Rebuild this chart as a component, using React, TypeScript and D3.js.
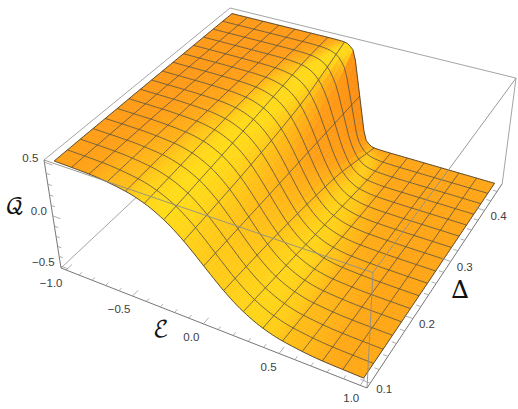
import React from "react";
import * as d3 from "d3";

const width = 518;
const height = 409;

// E positions of the values in each row
const energyNodes = [-1, -0.75, -0.5, -0.375, -0.25, -0.1875, -0.125, -0.0625, 0, 0.0625, 0.125, 0.1875, 0.25, 0.375, 0.5, 0.75, 1];
const gapNodes = [0.1, 0.15, 0.2, 0.25, 0.3, 0.35, 0.4, 0.45];

// Q, one row per gap value
const q010 = [0.496, 0.485, 0.441, 0.389, 0.3, 0.239, 0.167, 0.086, 0, -0.086, -0.167, -0.239, -0.3, -0.389, -0.441, -0.485, -0.496];
const q015 = [0.498, 0.491, 0.458, 0.412, 0.327, 0.263, 0.186, 0.096, 0, -0.096, -0.186, -0.263, -0.327, -0.412, -0.458, -0.491, -0.498];
const q020 = [0.499, 0.495, 0.473, 0.436, 0.356, 0.292, 0.209, 0.11, 0, -0.11, -0.209, -0.292, -0.356, -0.436, -0.473, -0.495, -0.499];
const q025 = [0.5, 0.498, 0.485, 0.458, 0.389, 0.326, 0.239, 0.127, 0, -0.127, -0.239, -0.326, -0.389, -0.458, -0.485, -0.498, -0.5];
const q030 = [0.5, 0.5, 0.493, 0.477, 0.424, 0.367, 0.277, 0.151, 0, -0.151, -0.277, -0.367, -0.424, -0.477, -0.493, -0.5, -0.5];
const q035 = [0.5, 0.5, 0.498, 0.491, 0.458, 0.412, 0.326, 0.186, 0, -0.186, -0.326, -0.412, -0.458, -0.491, -0.498, -0.5, -0.5];
const q040 = [0.5, 0.5, 0.5, 0.499, 0.489, 0.468, 0.407, 0.257, 0, -0.257, -0.407, -0.468, -0.489, -0.499, -0.5, -0.5, -0.5];
const q045 = [0.5, 0.5, 0.5, 0.5, 0.5, 0.499, 0.495, 0.44, 0, -0.44, -0.495, -0.499, -0.5, -0.5, -0.5, -0.5, -0.5];
const qRows = [q010, q015, q020, q025, q030, q035, q040, q045];

const energyTicks = [-1, -0.5, 0, 0.5, 1];
const energyMinor = d3.range(-10, 11).map((d) => d / 10);
const gapTicks = [0.1, 0.2, 0.3, 0.4];
const gapMinor = d3.range(5, 23).map((d) => d / 50);
const chargeTicks = [-0.5, 0, 0.5];
const chargeMinor = d3.range(-5, 6).map((d) => d / 10);

const meshCells = 16;
const subE = 6;
const subG = 4;

// box scales (2% padding like the original plot range)
const uScale = d3.scaleLinear().domain([-1.04, 1.04]).range([0, 1]);
const vScale = d3.scaleLinear().domain([0.093, 0.457]).range([0, 1]);
const wScale = d3.scaleLinear().domain([-0.52, 0.52]).range([0, 1]);

// perspective from the box corners
const O = [61, 268];
const U = [367, 388];
const W = [44, 160];
const VW = [230, 8];
const g = -0.13;
const h = 0.205;
const i3 = -0.0675;
const ax = U[0] * (1 + g) - O[0];
const ay = U[1] * (1 + g) - O[1];
const cx = W[0] * (1 + i3) - O[0];
const cy = W[1] * (1 + i3) - O[1];
const bx = VW[0] * (1 + h + i3) - W[0] * (1 + i3);
const by = VW[1] * (1 + h + i3) - W[1] * (1 + i3);

type P = [number, number];
const depth = (u: number, v: number, w: number) => 1 + g * u + h * v + i3 * w;
const project = (u: number, v: number, w: number): P => {
  const d = depth(u, v, w);
  return [(O[0] + ax * u + bx * v + cx * w) / d, (O[1] + ay * u + by * v + cy * w) / d];
};

// monotone cubic between the read values
function pchip(xs: number[], ys: number[], x: number) {
  const n = xs.length;
  let k = d3.bisectRight(xs, x) - 1;
  k = Math.max(0, Math.min(n - 2, k));
  const slope = (j: number) => (ys[j + 1] - ys[j]) / (xs[j + 1] - xs[j]);
  const tangent = (j: number) => {
    if (j === 0) return slope(0);
    if (j === n - 1) return slope(n - 2);
    const a = slope(j - 1);
    const b = slope(j);
    if (a * b <= 0) return 0;
    const ha = xs[j] - xs[j - 1];
    const hb = xs[j + 1] - xs[j];
    return (ha + 2 * hb + 2 * ha + hb) / ((2 * hb + ha) / a + (hb + 2 * ha) / b);
  };
  const dx = xs[k + 1] - xs[k];
  const t = (x - xs[k]) / dx;
  const t2 = t * t;
  const t3 = t2 * t;
  return (
    (2 * t3 - 3 * t2 + 1) * ys[k] +
    (t3 - 2 * t2 + t) * dx * tangent(k) +
    (-2 * t3 + 3 * t2) * ys[k + 1] +
    (t3 - t2) * dx * tangent(k + 1)
  );
}

const nE = meshCells * subE;
const nG = meshCells * subG;
const energyAt = d3.scaleLinear().domain([0, nE]).range([-1, 1]);
const gapAt = d3.scaleLinear().domain([0, nG]).range([0.1, 0.45]);

const grid: number[][] = d3.range(nG + 1).map((j) => {
  const gap = gapAt(j);
  return d3.range(nE + 1).map((i) => {
    const e = energyAt(i);
    const rowVals = qRows.map((r) => pchip(energyNodes, r, e));
    return pchip(gapNodes, rowVals, gap);
  });
});

const pt = (i: number, j: number) => project(uScale(energyAt(i)), vScale(gapAt(j)), wScale(grid[j][i]));
const line = d3.line();

// light picked so the plateaus are orange and the shoulders yellow
const light = [0.52, -0.3, 0.8];
const greenOf = d3.scaleLinear().domain([0, 0.6, 0.8, 0.97]).range([80, 135, 152, 216]).clamp(true);
function shade(i: number, j: number) {
  const z = (a: number, b: number) => wScale(grid[b][a]) * 0.4;
  const dzu = (z(i + 1, j) + z(i + 1, j + 1) - z(i, j) - z(i, j + 1)) / 2 / (uScale(energyAt(1)) - uScale(energyAt(0)));
  const dzv = (z(i, j + 1) + z(i + 1, j + 1) - z(i, j) - z(i + 1, j)) / 2 / (vScale(gapAt(1)) - vScale(gapAt(0)));
  const len = Math.hypot(dzu, dzv, 1);
  const dot = Math.max(0, (-dzu * light[0] - dzv * light[1] + light[2]) / len);
  const r = Math.min(255, 225 + 42 * dot);
  // lower plateau sits a little yellower than the upper one
  const gr = greenOf(dot) + 12 * (1 - wScale(grid[j][i]));
  const b = 4 + 20 * dot;
  return d3.rgb(r, gr, b).formatHex();
}

const quads: { d: string; fill: string; z: number }[] = [];
for (let j = 0; j < nG; j++) {
  for (let i = 0; i < nE; i++) {
    const a = pt(i, j);
    const b = pt(i + 1, j);
    const c = pt(i + 1, j + 1);
    const e = pt(i, j + 1);
    quads.push({
      d: (line([a, b, c, e]) as string) + "Z",
      fill: shade(i, j),
      z: depth(uScale(energyAt(i + 0.5)), vScale(gapAt(j + 0.5)), wScale(grid[j][i])),
    });
  }
}
quads.sort((p, q) => q.z - p.z);

// mesh lines: 15 in each direction
const meshLines = [
  ...d3.range(1, meshCells).map((k) => line(d3.range(nE + 1).map((i) => pt(i, k * subG))) as string),
  ...d3.range(1, meshCells).map((k) => line(d3.range(nG + 1).map((j) => pt(k * subE, j))) as string),
];

const outline = (
  line([
    ...d3.range(nE + 1).map((i) => pt(i, 0)),
    ...d3.range(nG + 1).map((j) => pt(nE, j)),
    ...d3.range(nE, -1, -1).map((i) => pt(i, nG)),
    ...d3.range(nG, -1, -1).map((j) => pt(0, j)),
  ]) as string
) + "Z";

const corner = (u: number, v: number, w: number) => project(u, v, w);
const edge = (p: P, q: P) => line([p, q]) as string;
const backEdges = [
  edge(corner(0, 0, 0), corner(0, 1, 0)),
  edge(corner(0, 1, 1), corner(1, 1, 1)),
  edge(corner(0, 0, 1), corner(0, 1, 1)),
  edge(corner(1, 1, 0), corner(1, 1, 1)),
];
const frontEdges = [
  edge(corner(0, 0, 1), corner(1, 0, 1)),
  edge(corner(1, 0, 1), corner(1, 1, 1)),
  edge(corner(1, 0, 1), corner(1, 0, 0)),
];
const axisEdges = [
  edge(corner(0, 0, 0), corner(1, 0, 0)),
  edge(corner(1, 0, 0), corner(1, 1, 0)),
  edge(corner(0, 0, 0), corner(0, 0, 1)),
];

const isMajor = (d: number, list: number[]) => list.some((t) => Math.abs(t - d) < 1e-6);
const tickFmt = d3.format(".1f");
const minus = (s: string) => s.replace("-", "\u2212");
const textFont = "'Liberation Sans', Arial, sans-serif";

const labelDxE = d3.scaleLinear().domain([-1, 1]).range([-15, -9]);

export default function App() {
  return (
    <svg width={width} height={height} style={{ position: "absolute", left: 0, top: 0, background: "#fff" }}>
      <g fill="none" stroke="#9a9a9a" strokeWidth={0.9}>
        {backEdges.map((d, i) => <path key={i} d={d} />)}
      </g>
      <g>
        {quads.map((q, i) => (
          <path key={i} d={q.d} fill={q.fill} stroke={q.fill} strokeWidth={0.5} />
        ))}
      </g>
      <g fill="none" stroke="#5f5640" strokeWidth={0.85}>
        {meshLines.map((d, i) => <path key={i} d={d} />)}
      </g>
      <path d={outline} fill="none" stroke="#4a4236" strokeWidth={0.9} />
      <g fill="none" stroke="#8e8e88" strokeWidth={0.9}>
        {frontEdges.map((d, i) => <path key={i} d={d} />)}
      </g>
      <g fill="none" stroke="#777" strokeWidth={1}>
        {axisEdges.map((d, i) => <path key={i} d={d} />)}
      </g>
      <g fill="none" stroke="#999" strokeWidth={0.8}>
        {energyMinor.map((d) => {
          const len = isMajor(d, energyTicks) ? 0.028 : 0.014;
          const u = uScale(d);
          return <path key={d} d={edge(project(u, 0, 0), project(u, len, 0))} />;
        })}
        {gapMinor.map((d) => {
          const len = isMajor(d, gapTicks) ? 0.028 : 0.014;
          const v = vScale(d);
          return <path key={d} d={edge(project(1, v, 0), project(1 - len, v, 0))} />;
        })}
        {chargeMinor.map((d) => {
          const len = isMajor(d, chargeTicks) ? 0.028 : 0.014;
          const w = wScale(d);
          return <path key={d} d={edge(project(0, 0, w), project(len, 0, w))} />;
        })}
      </g>
      <g fontFamily={textFont} fontSize={11.5} fill="#404040">
        {energyTicks.map((d) => {
          const [x, y] = project(uScale(d), 0, 0);
          return <text key={d} x={x + labelDxE(d)} y={y + 17} textAnchor="middle">{minus(tickFmt(d))}</text>;
        })}
        {gapTicks.map((d) => {
          const [x, y] = project(1, vScale(d), 0);
          return <text key={d} x={x + 14} y={y + 9.5} textAnchor="middle">{tickFmt(d)}</text>;
        })}
        {chargeTicks.map((d) => {
          const [x, y] = project(0, 0, wScale(d));
          return <text key={d} x={x - 6} y={y - 0.5} textAnchor="end">{minus(tickFmt(d))}</text>;
        })}
      </g>
      <g fill="#111" fontFamily="'DejaVu Math TeX Gyre', 'DejaVu Serif', 'Liberation Serif', serif" fontSize={23} textAnchor="middle">
        <text x={15} y={214}>{"\u{1D4AC}"}</text>
        <text x={161} y={337}>{"\u2130"}</text>
        <text x={460} y={298} fontSize={25}>{"\u0394"}</text>
      </g>
    </svg>
  );
}
